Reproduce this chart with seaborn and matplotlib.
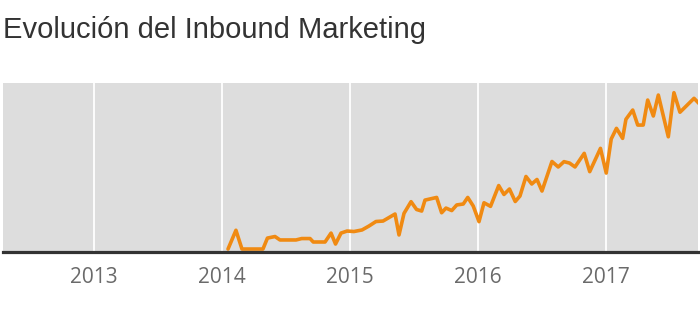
import matplotlib
matplotlib.use("Agg")
import matplotlib.pyplot as plt
import seaborn as sns
import pandas as pd

# Decimal-year positions of the series
years = [2014.047, 2014.109, 2014.156, 2014.320, 2014.355, 2014.414, 2014.453,
         2014.578, 2014.623, 2014.688, 2014.713, 2014.805, 2014.852, 2014.887,
         2014.930, 2014.977, 2015.031, 2015.094, 2015.148, 2015.203, 2015.258,
         2015.352, 2015.383, 2015.422, 2015.477, 2015.520, 2015.560, 2015.586,
         2015.677, 2015.716, 2015.750, 2015.795, 2015.834, 2015.885, 2015.920,
         2015.963, 2016.008, 2016.047, 2016.098, 2016.162, 2016.203, 2016.246,
         2016.291, 2016.328, 2016.375, 2016.420, 2016.461, 2016.500, 2016.578,
         2016.627, 2016.672, 2016.715, 2016.758, 2016.830, 2016.873, 2016.957,
         2017.002, 2017.041, 2017.082, 2017.130, 2017.156, 2017.209, 2017.248,
         2017.291, 2017.326, 2017.370, 2017.409, 2017.487, 2017.531, 2017.578,
         2017.688, 2017.752]

interest = [0, 12, 0, 0, 7, 8, 5.8,
            5.8, 6.7, 6.7, 4.5, 4.5, 10.2, 3.2,
            10.2, 11.5, 11.2, 12.2, 14.7, 17.6, 17.9,
            22.4, 9, 22.8, 30.3, 25.3, 24.3, 31.3,
            33, 23.2, 26.2, 24.6, 28.2, 28.8, 33,
            27.5, 17.5, 29.6, 27.3, 40.6, 34.9, 38.4,
            30.4, 33.9, 46.4, 41.6, 44.5, 37.1, 56,
            52.5, 55.9, 55, 52.5, 61.2, 49.5, 64.4,
            48.6, 70.4, 77.2, 70.8, 83, 88.9, 79.3,
            79.3, 95.3, 85.1, 98.5, 71.8, 100, 87.5,
            96.4, 91]

tick_years = [2013, 2014, 2015, 2016, 2017]
tick_labels = ["2013", "2014", "2015", "2016", "2017"]
title = "Evolución del Inbound Marketing"

df = pd.DataFrame({"year": years, "interest": interest})

sns.set_theme(style="white")
plt.rcParams["font.family"] = ["Open Sans", "DejaVu Sans"]

fig = plt.figure(figsize=(7, 3.2), dpi=100)
ax = fig.add_axes([3 / 700, 68 / 320, 695 / 700, 169.3 / 320])
ax.set_facecolor("#dddddd")

sns.lineplot(data=df, x="year", y="interest", ax=ax, color="#f08a12",
             linewidth=2.6, zorder=3)

ax.set_xlim(2012.289, 2017.719)
ax.set_ylim(-1.9, 106.4)
ax.set_xticks(tick_years)
ax.set_xticklabels(tick_labels, color="#6a6a6a", fontsize=15)
ax.set_yticks([])
ax.set_xlabel("")
ax.set_ylabel("")
ax.tick_params(axis="x", length=0, pad=11)

for yr in tick_years:
    ax.axvline(yr, color="white", linewidth=1.3, zorder=1)

for side in ["top", "left", "right"]:
    ax.spines[side].set_visible(False)
ax.spines["bottom"].set_color("#333333")
ax.spines["bottom"].set_linewidth(2.3)
ax.spines["bottom"].set_zorder(4)

fig.text(3 / 700, 1 - 30 / 320, title, fontsize=21, color="#333333",
         family=["Liberation Sans", "DejaVu Sans"], ha="left", va="center")

fig.savefig("out.png", dpi=100)
